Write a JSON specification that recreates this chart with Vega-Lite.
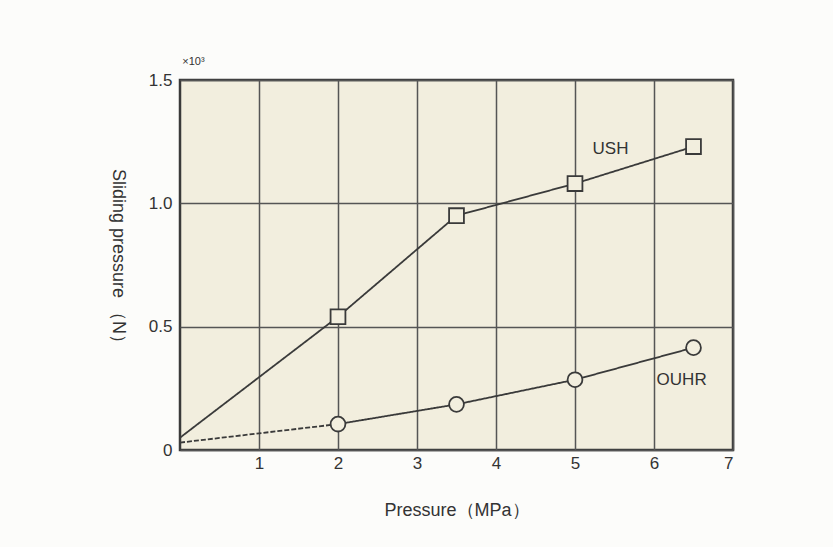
{
  "$schema": "https://vega.github.io/schema/vega-lite/v6.json",
  "width": 553,
  "height": 370,
  "autosize": {"type": "none"},
  "padding": {"left": 180, "top": 80, "right": 100, "bottom": 97},
  "background": "#fcfcfa",
  "config": {
    "font": "Liberation Sans",
    "view": {"fill": "#f2eede", "stroke": "#3a3a3a", "strokeWidth": 2.5}
  },
  "datasets": {
    "lines": [
      {"seg": "USH", "dash": "solid", "p": 0, "f": 0.05},
      {"seg": "USH", "dash": "solid", "p": 2, "f": 0.54},
      {"seg": "USH", "dash": "solid", "p": 3.5, "f": 0.95},
      {"seg": "USH", "dash": "solid", "p": 5, "f": 1.08},
      {"seg": "USH", "dash": "solid", "p": 6.5, "f": 1.23},
      {"seg": "OUHR-a", "dash": "dashed", "p": 0, "f": 0.03},
      {"seg": "OUHR-a", "dash": "dashed", "p": 2, "f": 0.105},
      {"seg": "OUHR-b", "dash": "solid", "p": 2, "f": 0.105},
      {"seg": "OUHR-b", "dash": "solid", "p": 3.5, "f": 0.185},
      {"seg": "OUHR-b", "dash": "solid", "p": 5, "f": 0.285},
      {"seg": "OUHR-b", "dash": "solid", "p": 6.5, "f": 0.415}
    ],
    "points": [
      {"series": "USH", "p": 2, "f": 0.54},
      {"series": "USH", "p": 3.5, "f": 0.95},
      {"series": "USH", "p": 5, "f": 1.08},
      {"series": "USH", "p": 6.5, "f": 1.23},
      {"series": "OUHR", "p": 2, "f": 0.105},
      {"series": "OUHR", "p": 3.5, "f": 0.185},
      {"series": "OUHR", "p": 5, "f": 0.285},
      {"series": "OUHR", "p": 6.5, "f": 0.415}
    ],
    "labels": [
      {"text": "USH", "p": 5.45, "f": 1.22, "size": 17},
      {"text": "OUHR", "p": 6.35, "f": 0.285, "size": 17},
      {"text": "×10³", "p": 0.17, "f": 1.575, "size": 11}
    ]
  },
  "layer": [
    {
      "data": {"name": "lines"},
      "mark": {"type": "line", "color": "#3a3a3a", "strokeWidth": 1.8},
      "encoding": {
        "x": {
          "field": "p", "type": "quantitative",
          "scale": {"domain": [0, 7], "nice": false},
          "axis": {
            "values": [1, 2, 3, 4, 5, 6, 7],
            "format": "d",
            "title": "Pressure（MPa）",
            "titleFontSize": 18, "titleFontWeight": "normal", "titleColor": "#333",
            "titlePadding": 30,
            "labelFontSize": 17, "labelColor": "#333", "labelPadding": 5,
            "ticks": false, "domain": false,
            "gridColor": "#555", "gridWidth": 1.5, "gridOpacity": 1
          }
        },
        "y": {
          "field": "f", "type": "quantitative",
          "scale": {"domain": [0, 1.5], "nice": false},
          "axis": {
            "values": [0, 0.5, 1, 1.5],
            "labelExpr": "datum.value == 0 ? '0' : format(datum.value, '.1f')",
            "title": "Sliding pressure （N）",
            "titleAngle": 90,
            "titleFontSize": 18, "titleFontWeight": "normal", "titleColor": "#333",
            "titlePadding": 40, "titleY": 180,
            "labelFontSize": 17, "labelColor": "#333", "labelPadding": 8,
            "ticks": false, "domain": false,
            "gridColor": "#555", "gridWidth": 1.5, "gridOpacity": 1
          }
        },
        "detail": {"field": "seg"},
        "strokeDash": {
          "field": "dash", "type": "nominal",
          "scale": {"domain": ["solid", "dashed"], "range": [[1, 0], [5, 2]]},
          "legend": null
        }
      }
    },
    {
      "data": {"name": "points"},
      "mark": {"type": "point", "filled": false, "stroke": "#3a3a3a", "fill": "#f2eede", "fillOpacity": 1, "strokeWidth": 1.8, "size": 220, "opacity": 1},
      "encoding": {
        "x": {"field": "p", "type": "quantitative"},
        "y": {"field": "f", "type": "quantitative"},
        "shape": {
          "field": "series", "type": "nominal",
          "scale": {"domain": ["USH", "OUHR"], "range": ["square", "circle"]},
          "legend": null
        }
      }
    },
    {
      "data": {"name": "labels"},
      "mark": {"type": "text", "color": "#333", "align": "center", "baseline": "middle"},
      "encoding": {
        "x": {"field": "p", "type": "quantitative"},
        "y": {"field": "f", "type": "quantitative"},
        "text": {"field": "text"},
        "size": {"field": "size", "type": "quantitative", "scale": null}
      }
    }
  ]
}
